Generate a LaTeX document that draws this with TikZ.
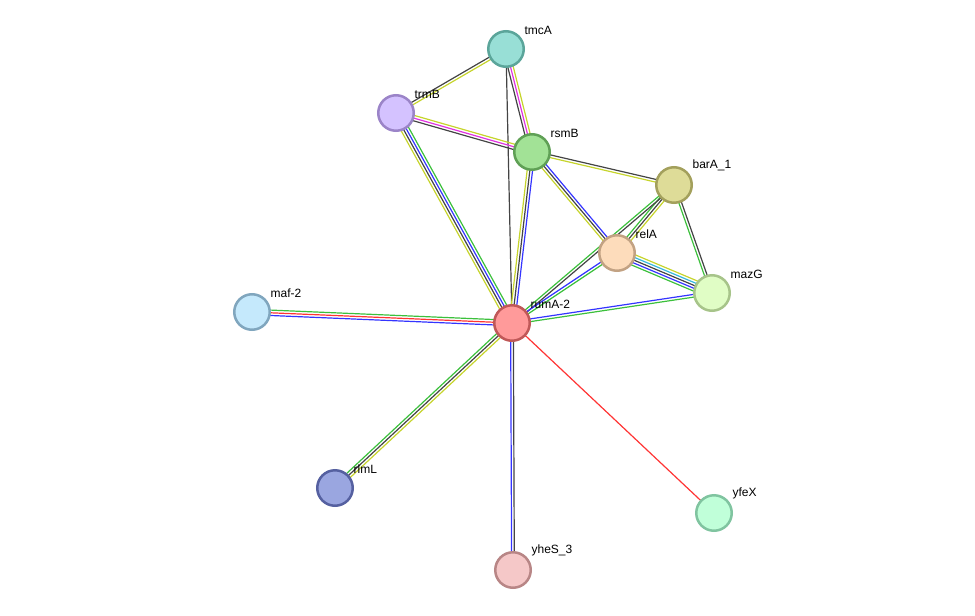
\documentclass[tikz,border=0pt]{standalone}
\usepackage{fontspec}
\setmainfont{Liberation Sans}
\usetikzlibrary{calc,backgrounds}
% evidence channel colours
\definecolor{evYellow}{HTML}{C6D42C}
\definecolor{evGreen}{HTML}{3CC03C}
\definecolor{evBlue}{HTML}{3434FF}
\definecolor{evRed}{HTML}{FF3434}
\definecolor{evBlack}{HTML}{444444}
\definecolor{evMagenta}{HTML}{E032E0}
\definecolor{evCyan}{HTML}{36B8DC}

\begin{document}
\begin{tikzpicture}[x=1pt,y=-1pt,
  prot/.style={circle,minimum size=35.5pt,inner sep=0pt,line width=2.5pt,label distance=2pt},
  lbl/.style={font=\fontsize{12}{14}\selectfont,inner sep=3pt,xshift=2pt,yshift=-2.5pt}]
\useasboundingbox (0,0) rectangle (975,616);
\newcommand{\prot}[6]{%
  \node[prot,fill={rgb,255:#5},draw={rgb,255:#6},label={[lbl,name=#1-l]45:#4}] (#1) at (#2,#3) {};
}
\newcommand{\link}[3]{%
  \foreach \col [count=\n] in {#3} {\xdef\nlines{\n}}
  \foreach \col [count=\i] in {#3} {
    \pgfmathsetmacro{\off}{(\i-(\nlines+1)/2)*2.7}
    \draw[\col,line width=1.2pt] ($(#1)!\off pt!90:(#2)$) -- ($(#2)!\off pt!-90:(#1)$);
  }
}

\prot{tmcA}{506}{49}{tmcA}{red,152;green,223;blue,214}{red,91;green,165;blue,154}
\prot{trmB}{396}{113}{trmB}{red,212;green,194;blue,255}{red,155;green,132;blue,200}
\prot{rsmB}{532}{152}{rsmB}{red,162;green,226;blue,150}{red,95;green,160;blue,85}
\prot{barA}{674}{185}{barA\_1}{red,222;green,220;blue,152}{red,163;green,160;blue,92}
\prot{relA}{617}{253}{relA}{red,253;green,220;blue,187}{red,194;green,162;blue,131}
\prot{mazG}{712}{293}{mazG}{red,224;green,253;blue,197}{red,167;green,196;blue,138}
\prot{maf}{252}{312}{maf-2}{red,197;green,233;blue,252}{red,128;green,166;blue,190}
\prot{rumA}{512}{323}{rumA-2}{red,255;green,154;blue,154}{red,192;green,88;blue,88}
\prot{rlmL}{335}{488}{rlmL}{red,154;green,166;blue,224}{red,85;green,96;blue,160}
\prot{yfeX}{714}{513}{yfeX}{red,192;green,255;blue,217}{red,128;green,196;blue,160}
\prot{yheS}{513}{570}{yheS\_3}{red,245;green,200;blue,200}{red,184;green,134;blue,134}

\begin{scope}[on background layer]
\link{tmcA}{trmB}{evBlack,evYellow}
\link{tmcA}{rsmB}{evBlack,evMagenta,evYellow}
\link{tmcA}{rumA}{evBlack}
\link{trmB}{rsmB}{evBlack,evMagenta,evYellow}
\link{trmB}{rumA}{evYellow,evBlack,evBlue,evGreen}
\link{rsmB}{rumA}{evYellow,evBlack,evBlue}
\link{rsmB}{barA}{evYellow,evBlack}
\link{rsmB}{relA}{evYellow,evBlack,evBlue}
\link{barA}{relA}{evGreen,evBlack,evYellow}
\link{barA}{rumA}{evGreen,evBlack}
\link{relA}{rumA}{evBlue,evGreen}
\link{barA}{mazG}{evGreen,evBlack}
\link{relA}{mazG}{evGreen,evBlue,evBlack,evCyan,evYellow}
\link{rumA}{mazG}{evGreen,evBlue}
\link{maf}{rumA}{evBlue,evRed,evGreen}
\link{rumA}{rlmL}{evGreen,evBlack,evYellow}
\link{rumA}{yheS}{evBlue,evBlack}
\link{rumA}{yfeX}{evRed}
\end{scope}
\end{tikzpicture}
\end{document}
